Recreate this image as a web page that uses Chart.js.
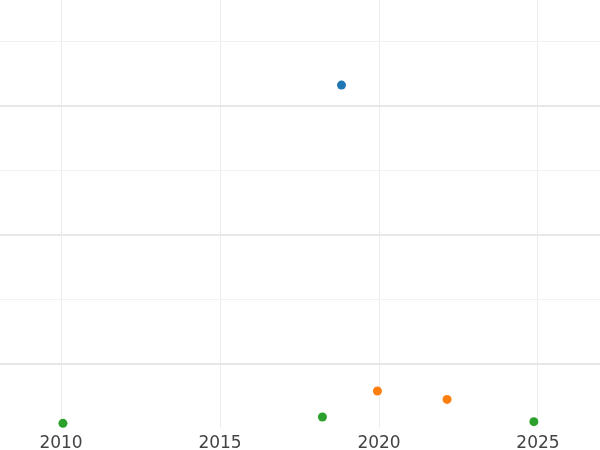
<!DOCTYPE html>
<html>
<head>
<meta charset="utf-8">
<script src="https://cdn.jsdelivr.net/npm/chart.js@4"></script>
<style>
  html, body { margin: 0; padding: 0; background: #fff; }
  #wrap { width: 600px; height: 450px; }
</style>
</head>
<body>
<div id="wrap"><canvas id="chart"></canvas></div>
<script>
/* values */
const blueYears = [2018.82];
const blueValues = [31.6];
const orangeYears = [2019.95, 2022.14];
const orangeValues = [7.87, 7.22];
const greenYears = [2010.06, 2018.22, 2024.87];
const greenValues = [5.36, 5.85, 5.49];
const xTicks = [2010, 2015, 2020, 2025];
const yTicks = [10, 15, 20, 25, 30, 35];

const pts = (xs, ys) => xs.map((x, i) => ({ x, y: ys[i] }));

const dataset = (xs, ys, color) => ({
  data: pts(xs, ys),
  backgroundColor: color,
  borderWidth: 0,
  pointRadius: 4.5,
  pointHoverRadius: 4.5,
  clip: false
});

new Chart(document.getElementById("chart"), {
  type: "scatter",
  data: {
    datasets: [
      dataset(blueYears, blueValues, "#1f77b4"),
      dataset(orangeYears, orangeValues, "#ff7f0e"),
      dataset(greenYears, greenValues, "#2ca02c")
    ]
  },
  options: {
    responsive: true,
    maintainAspectRatio: false,
    animation: false,
    layout: { padding: 0, autoPadding: false },
    plugins: { legend: { display: false }, tooltip: { enabled: false } },
    scales: {
      x: {
        type: "linear",
        min: 2008.08, max: 2026.95,
        afterBuildTicks: (s) => { s.ticks = xTicks.map(v => ({ value: v })); },
        afterFit: (s) => { s.height = 22; },
        border: { display: false },
        grid: { color: "#ececec", lineWidth: 1, drawTicks: false },
        ticks: {
          color: "#444",
          padding: 5.5,
          font: { family: "DejaVu Sans", size: 17 },
          callback: (v) => String(v)
        }
      },
      y: {
        min: 5, max: 38.2,
        afterBuildTicks: (s) => { s.ticks = yTicks.map(v => ({ value: v })); },
        border: { display: false },
        grid: {
          drawTicks: false,
          color: (c) => (c.tick && c.tick.value % 10 === 0) ? "#e8e8e8" : "#f2f2f2",
          lineWidth: (c) => (c.tick && c.tick.value % 10 === 0) ? 2 : 1
        },
        ticks: { display: false },
        afterFit: (s) => { s.width = 0; }
      }
    }
  }
});
</script>
</body>
</html>
